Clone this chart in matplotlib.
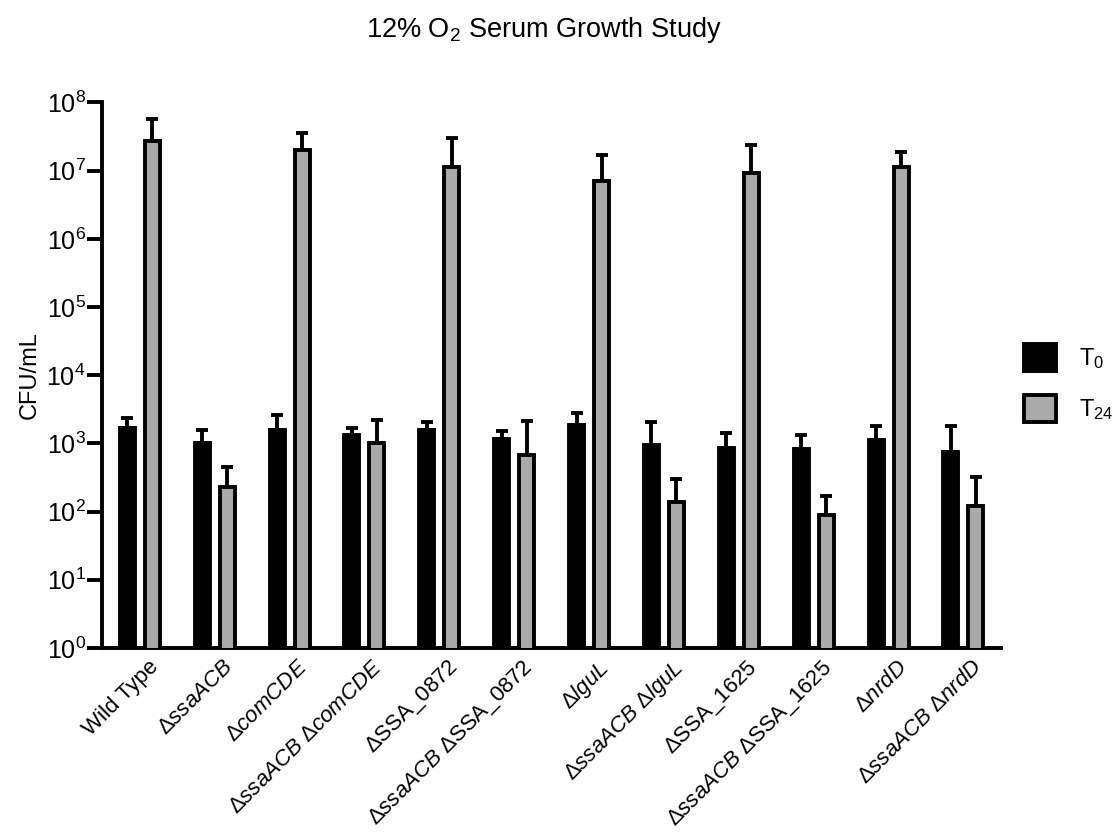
import numpy as np
import matplotlib
matplotlib.use('Agg')
import matplotlib.pyplot as plt
from matplotlib.patches import Patch
from matplotlib.transforms import ScaledTranslation

plt.rcParams['font.family'] = ['Liberation Sans', 'DejaVu Sans']
plt.rcParams['mathtext.fontset'] = 'custom'
plt.rcParams['mathtext.rm'] = 'Liberation Sans'
plt.rcParams['mathtext.it'] = 'Liberation Sans:italic'
plt.rcParams['mathtext.bf'] = 'Liberation Sans:bold'
plt.rcParams['mathtext.sf'] = 'Liberation Sans'

# strains (mutant names in italics)
strains = [
    'Wild Type',
    r'$\mathit{\Delta ssaACB}$',
    r'$\mathit{\Delta comCDE}$',
    r'$\mathit{\Delta ssaACB}$ $\mathit{\Delta comCDE}$',
    r'$\Delta$SSA_0872',
    r'$\mathit{\Delta ssaACB}$ $\Delta$SSA_0872',
    r'$\mathit{\Delta lguL}$',
    r'$\mathit{\Delta ssaACB}$ $\mathit{\Delta lguL}$',
    r'$\Delta$SSA_1625',
    r'$\mathit{\Delta ssaACB}$ $\Delta$SSA_1625',
    r'$\mathit{\Delta nrdD}$',
    r'$\mathit{\Delta ssaACB}$ $\mathit{\Delta nrdD}$',
]

# CFU/mL means and mean + SD (top of error bar)
t0_mean = [1660, 1020, 1570, 1340, 1600, 1170, 1850, 935, 864, 826, 1120, 755]
t0_top = [2380, 1600, 2650, 1710, 2070, 1510, 2750, 2070, 1400, 1350, 1790, 1790]
t24_mean = [2.7e7, 227, 1.99e7, 1020, 1.13e7, 667, 7.1e6, 140, 9.2e6, 89, 1.13e7, 122]
t24_top = [5.7e7, 456, 3.56e7, 2240, 3.0e7, 2120, 1.67e7, 297, 2.4e7, 171, 1.87e7, 318]

gray = '#aaaaaa'
lw = 2.8

fig = plt.figure(figsize=(11.16, 8.36), dpi=100)
ax = fig.add_axes([0.0918, 0.2249, 0.805, 0.6525])

x = np.arange(len(strains))
w = 0.2
off = 0.167

t0_err = [np.zeros(len(x)), np.array(t0_top) - np.array(t0_mean)]
t24_err = [np.zeros(len(x)), np.array(t24_top) - np.array(t24_mean)]

ax.bar(x - off, t0_mean, w, color='black', edgecolor='black', linewidth=lw, zorder=3)
ax.bar(x + off, t24_mean, w, color=gray, edgecolor='black', linewidth=lw, zorder=3)
ax.errorbar(x - off, t0_mean, yerr=t0_err, fmt='none', ecolor='black',
            elinewidth=lw, capsize=4.3, capthick=lw, zorder=2)
ax.errorbar(x + off, t24_mean, yerr=t24_err, fmt='none', ecolor='black',
            elinewidth=lw, capsize=4.3, capthick=lw, zorder=2)

ax.set_yscale('log')
ax.set_ylim(1, 1e8)
ax.set_xlim(-0.5, 11.5)
ax.set_yticks([10.0 ** k for k in range(9)])
ax.set_yticklabels([f'$10^{{{k}}}$' for k in range(9)])
ax.yaxis.set_minor_locator(matplotlib.ticker.NullLocator())
ax.tick_params(axis='y', length=11, width=lw, labelsize=18, pad=1)
ax.tick_params(axis='x', length=0, pad=6)
ax.set_xticks(x)
ax.set_xticklabels(strains, rotation=45, ha='right', rotation_mode='anchor', fontsize=16)
# push the rotated labels a little right so they end just past each group
shift = ScaledTranslation(0.08, 0, fig.dpi_scale_trans)
for lab in ax.get_xticklabels():
    lab.set_transform(lab.get_transform() + shift)

for side in ['top', 'right']:
    ax.spines[side].set_visible(False)
for side in ['left', 'bottom']:
    ax.spines[side].set_linewidth(lw)

ax.set_ylabel('CFU/mL', fontsize=17, labelpad=4)

fig.text(0.487, 1 - 30 / 836, r'12% O$_2$ Serum Growth Study', ha='center', va='center', fontsize=19.5)

handles = [Patch(facecolor='black', edgecolor='black', linewidth=lw),
           Patch(facecolor=gray, edgecolor='black', linewidth=lw)]
fig.legend(handles, [r'T$_0$', r'T$_{24}$'], loc='upper left',
           bbox_to_anchor=(1024 / 1116, 1 - 344 / 836), frameon=False, fontsize=17,
           handlelength=1.35, handleheight=1.38, labelspacing=1.0,
           handletextpad=1.0, borderpad=0, borderaxespad=0)

fig.savefig('out.png', dpi=100)
